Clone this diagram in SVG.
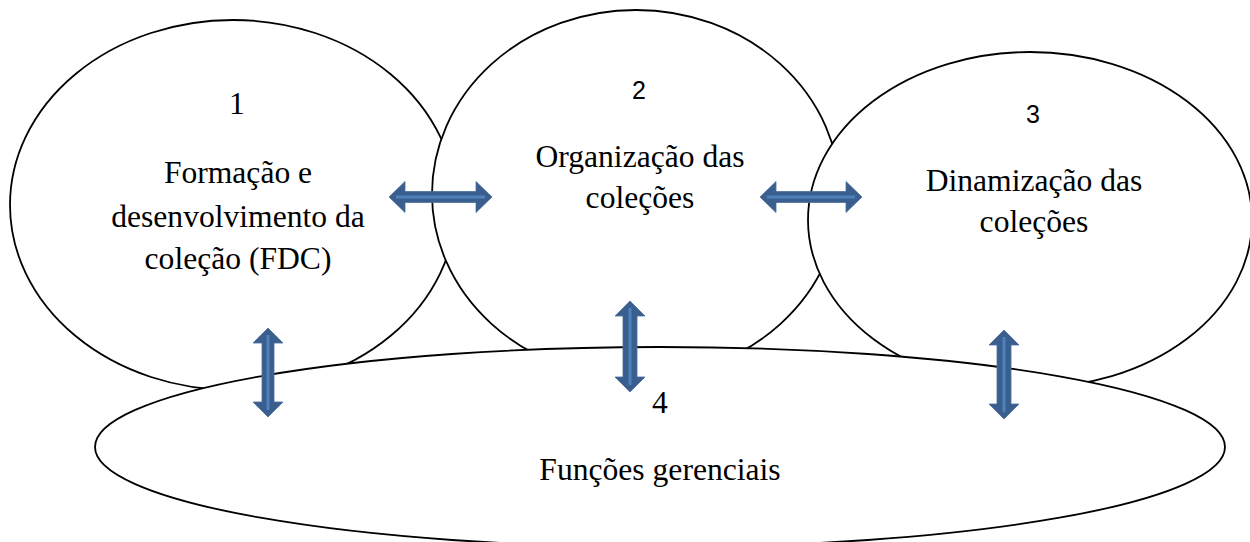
<svg xmlns="http://www.w3.org/2000/svg" width="1250" height="542" viewBox="0 0 1250 542">
<style>
.sh{fill:#ffffff;stroke:#000000;stroke-width:1.8}
.t{font-family:"Liberation Serif","Times New Roman",serif;font-size:31.6px;fill:#000000;text-anchor:middle}
.n{font-family:"Liberation Sans",Arial,sans-serif;font-size:25px;fill:#000000;text-anchor:middle}
.ar{fill:#3a5e8e;stroke:#4a6f9f;stroke-width:0.8}
.hl{stroke:#4f81bd;stroke-width:3;fill:none}
</style>
<rect width="1250" height="542" fill="#ffffff"/>
<g id="node1">
<ellipse class="sh" cx="233" cy="205" rx="223" ry="185"/>
</g>
<g id="node2">
<ellipse class="sh" cx="636" cy="194" rx="204" ry="184"/>
</g>
<g id="node3">
<ellipse class="sh" cx="1030" cy="220" rx="222" ry="168"/>
</g>
<g id="node4">
<ellipse class="sh" cx="660" cy="447" rx="565" ry="100"/>
</g>
<g id="labels1">
<text class="t" x="237" y="114">1</text>
<text class="t" x="238" y="183">Formação e</text>
<text class="t" x="238" y="227">desenvolvimento da</text>
<text class="t" x="238" y="269">coleção (FDC)</text>
</g>
<g id="labels2">
<text class="n" x="639" y="99">2</text>
<text class="t" x="640" y="167">Organização das</text>
<text class="t" x="640" y="208">coleções</text>
</g>
<g id="labels3">
<text class="n" x="1033" y="123">3</text>
<text class="t" x="1034" y="191">Dinamização das</text>
<text class="t" x="1034" y="232">coleções</text>
</g>
<g id="labels4">
<text class="t" x="660" y="413">4</text>
<text class="t" x="660" y="480">Funções gerenciais</text>
</g>
<g id="connectors">
<polygon class="ar" points="389,197 405,181.5 405,191.5 476,191.5 476,181.5 492,197 476,212.5 476,202.5 405,202.5 405,212.5"/>
<line class="hl" x1="396" y1="197" x2="485" y2="197"/>
<polygon class="ar" points="760,197 776,181.5 776,191.5 846,191.5 846,181.5 862,197 846,212.5 846,202.5 776,202.5 776,212.5"/>
<line class="hl" x1="767" y1="197" x2="855" y2="197"/>
<polygon class="ar" points="268,328 283,343 274,343 274,402 283,402 268,417 253,402 262,402 262,343 253,343"/>
<line class="hl" x1="268" y1="335" x2="268" y2="410"/>
<polygon class="ar" points="630,301 645,316 637,316 637,377 645,377 630,392 615,377 623,377 623,316 615,316"/>
<line class="hl" x1="630" y1="308" x2="630" y2="385"/>
<polygon class="ar" points="1004,330 1019,345 1011,345 1011,404 1019,404 1004,419 989,404 997,404 997,345 989,345"/>
<line class="hl" x1="1004" y1="337" x2="1004" y2="412"/>
</g>
</svg>
